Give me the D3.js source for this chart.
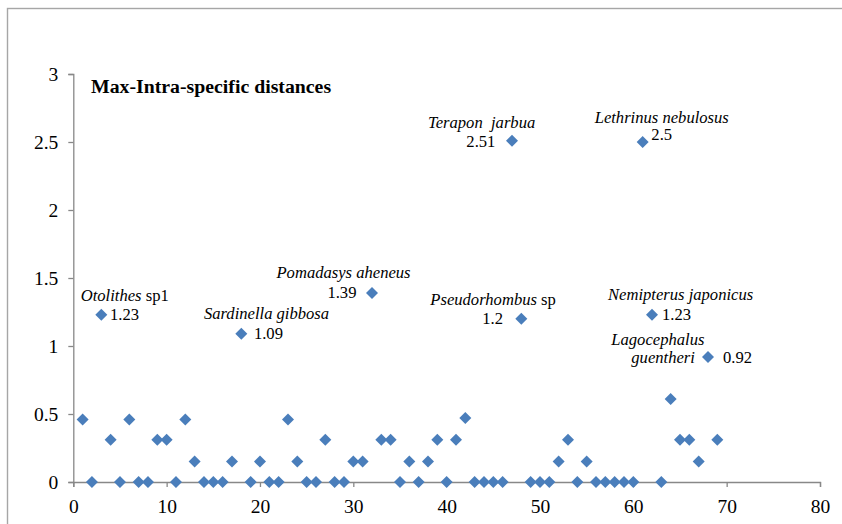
<!DOCTYPE html>
<html>
<head>
<meta charset="utf-8">
<script src="https://cdn.jsdelivr.net/npm/d3@7"></script>
<style>
  html, body { margin: 0; padding: 0; background: #fff; }
  svg { display: block; }
  text { font-family: "Liberation Serif", "Times New Roman", serif; fill: #000; }
</style>
</head>
<body>
<svg id="chart" width="842" height="524"></svg>
<script>
// ---- data ----
const speciesIndex = d3.range(1, 70); // 1..69
const maxIntraDistance = [
  0.46, 0, 1.23, 0.31, 0, 0.46, 0, 0, 0.31, 0.31,
  0, 0.46, 0.15, 0, 0, 0, 0.15, 1.09, 0, 0.15,
  0, 0, 0.46, 0.15, 0, 0, 0.31, 0, 0, 0.15,
  0.15, 1.39, 0.31, 0.31, 0, 0.15, 0, 0.15, 0.31, 0,
  0.31, 0.47, 0, 0, 0, 0, 2.51, 1.2, 0, 0,
  0, 0.15, 0.31, 0, 0.15, 0, 0, 0, 0, 0,
  2.5, 1.23, 0, 0.61, 0.31, 0.31, 0.15, 0.92, 0.31
];
const xTicks = [0, 10, 20, 30, 40, 50, 60, 70, 80];
const yTicks = [0, 0.5, 1, 1.5, 2, 2.5, 3];
const yTickLabels = ["0", "0.5", "1", "1.5", "2", "2.5", "3"];
const chartTitle = "Max-Intra-specific distances";

// annotated species (index into speciesIndex, italic name, regular suffix, value label)
const labelSpecies = [3, 18, 32, 47, 48, 61, 62, 68];
const labelNames = [
  ["Otolithes", " sp1"],
  ["Sardinella gibbosa", ""],
  ["Pomadasys aheneus", ""],
  ["Terapon\u00a0 jarbua", ""],
  ["Pseudorhombus", " sp"],
  ["Lethrinus nebulosus", ""],
  ["Nemipterus japonicus", ""],
  ["Lagocephalus", ""]
];
const labelSecondLine = ["", "", "", "", "", "", "", "guentheri"];
const labelValues = ["1.23", "1.09", "1.39", "2.51", "1.2", "2.5", "1.23", "0.92"];

// ---- label layout offsets (relative to the marker, in px) ----
const nameOffset = [[-20.6, -14], [-37.4, -14.5], [-95.5, -14.7], [-84, -12.3], [-91, -13.8], [-48, -19.3], [-44, -14.7], [-96.7, -12]];
const line2Offset = [null, null, null, null, null, null, null, [-76.7, 6.4]];
const valueOffset = [[8.7, 5.3], [12.6, 5.2], [-15.5, 5], [-16.6, 6.7], [-18.3, 5.2], [8.7, -2], [10, 5], [15, 6.4]];
const valueAnchor = ["start", "start", "end", "end", "end", "start", "start", "start"];

// ---- drawing ----
const svg = d3.select("#chart");
const axisColor = "#888888";
const markerColor = "#4A7EBB";
const serif = '"Liberation Serif", "Times New Roman", serif';

// outer frame
svg.append("rect")
  .attr("x", 7.5).attr("y", 8.5)
  .attr("width", 900).attr("height", 600)
  .attr("fill", "none").attr("stroke", "#a6a6a6").attr("stroke-width", 1.4);

const x = d3.scaleLinear().domain([0, 80]).range([73.3, 820]);
const y = d3.scaleLinear().domain([0, 3]).range([482, 74]);

// y axis
const yAxis = d3.axisLeft(y).tickValues(yTicks)
  .tickFormat((d, i) => yTickLabels[i]).tickSize(5).tickPadding(10);
const gy = svg.append("g").attr("transform", `translate(${x(0)},0)`).call(yAxis);
gy.attr("font-family", null);
gy.select(".domain").attr("stroke", axisColor).attr("stroke-width", 1.3);
gy.selectAll(".tick line").attr("stroke", axisColor).attr("stroke-width", 1.3);
gy.selectAll(".tick text")
  .style("font-family", serif)
  .style("font-size", "19.5px").attr("fill", "#000");

// x axis
const xAxis = d3.axisBottom(x).tickValues(xTicks).tickSize(5).tickPadding(12);
const gx = svg.append("g").attr("transform", `translate(0,${y(0)})`).call(xAxis);
gx.attr("font-family", null);
gx.select(".domain").attr("stroke", axisColor).attr("stroke-width", 1.3);
gx.selectAll(".tick line").attr("stroke", axisColor).attr("stroke-width", 1.3);
gx.selectAll(".tick text")
  .style("font-family", serif)
  .style("font-size", "19.5px").attr("fill", "#000");

// title
svg.append("text")
  .attr("x", 91).attr("y", 93)
  .style("font-size", "19.8px").style("font-weight", "bold")
  .text(chartTitle);

// markers (diamonds)
const r = 6;
const diamond = `M0,${-r}L${r},0L0,${r}L${-r},0Z`;
const points = speciesIndex.map((s, i) => ({ s, v: maxIntraDistance[i] }));
svg.append("g").selectAll("path")
  .data(points).join("path")
  .attr("d", diamond)
  .attr("transform", d => `translate(${x(d.s)},${y(d.v)})`)
  .attr("fill", markerColor);

// annotations
const ann = svg.append("g").style("font-size", "16.6px");
labelSpecies.forEach((s, i) => {
  const px = x(s), py = y(maxIntraDistance[s - 1]);
  const t = ann.append("text")
    .attr("x", px + nameOffset[i][0]).attr("y", py + nameOffset[i][1]);
  t.append("tspan").style("font-style", "italic").text(labelNames[i][0]);
  if (labelNames[i][1]) t.append("tspan").text(labelNames[i][1]);
  if (line2Offset[i]) {
    ann.append("text")
      .attr("x", px + line2Offset[i][0]).attr("y", py + line2Offset[i][1])
      .style("font-style", "italic").text(labelSecondLine[i]);
  }
  ann.append("text")
    .attr("x", px + valueOffset[i][0]).attr("y", py + valueOffset[i][1])
    .attr("text-anchor", valueAnchor[i])
    .text(labelValues[i]);
});
</script>
</body>
</html>
